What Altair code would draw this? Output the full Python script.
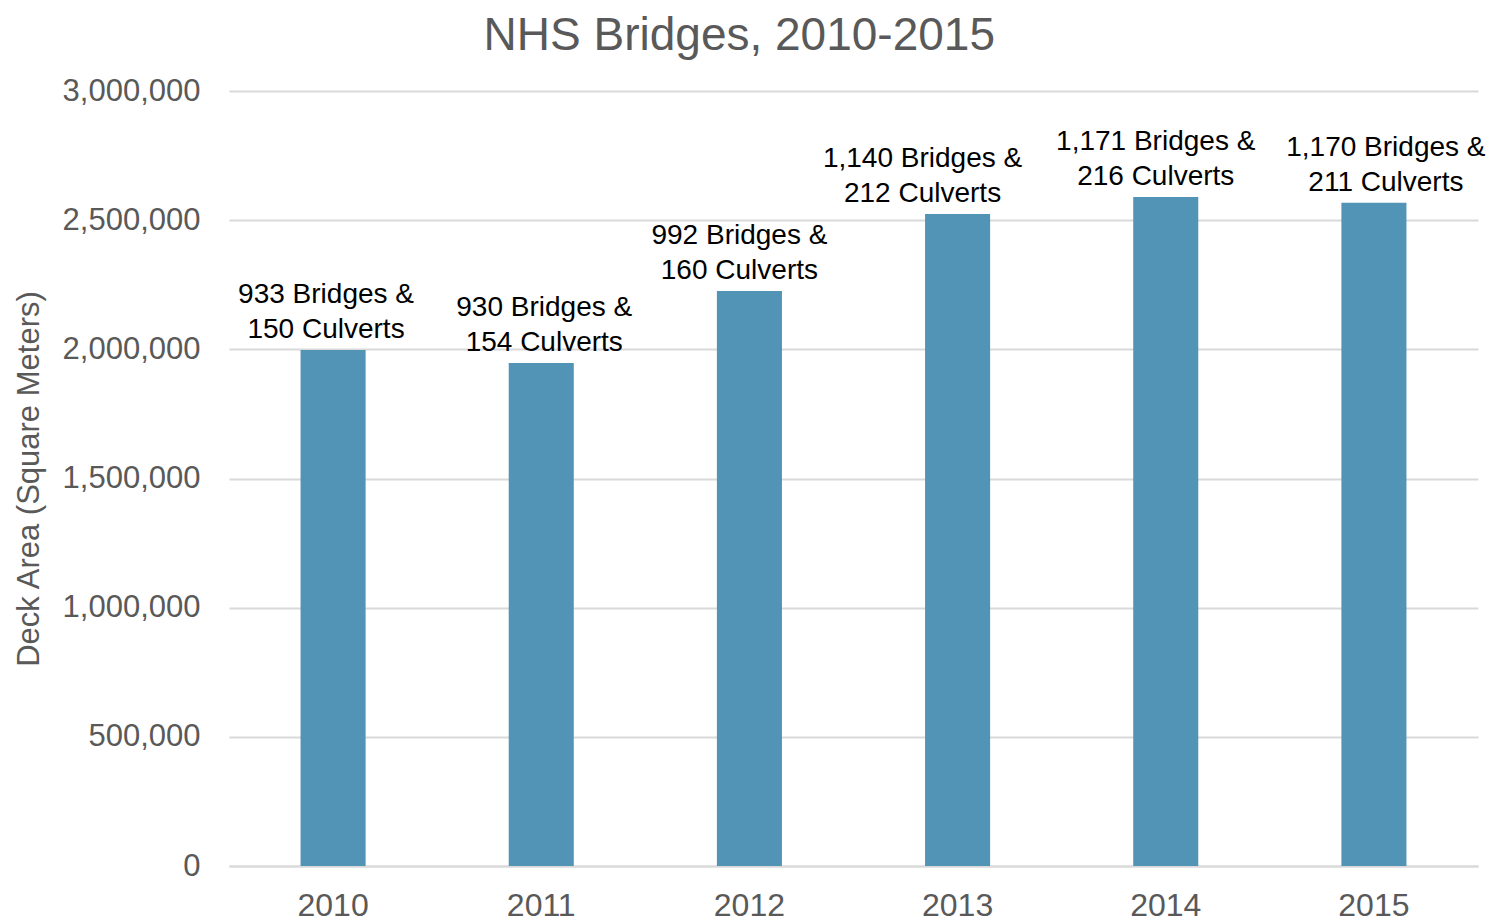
import altair as alt
import pandas as pd

years = ["2010", "2011", "2012", "2013", "2014", "2015"]
deck_area = [1997000, 1947000, 2226000, 2524000, 2590000, 2567000]
bridges = ["933", "930", "992", "1,140", "1,171", "1,170"]
culverts = ["150", "154", "160", "212", "216", "211"]
# horizontal nudge of each annotation relative to its bar centre (pixels)
label_nudge = [-7, 3, -10, -35, -10, 12]
BAR_WIDTH = 65

df = pd.DataFrame({
    "year": years,
    "area": deck_area,
    "label": [f"{b} Bridges &\n{c} Culverts" for b, c in zip(bridges, culverts)],
    "nudge": label_nudge,
})

FONT = "Liberation Sans"
GRAY = "#595959"

base = alt.Chart(df)

x = alt.X("year:N", title=None, sort=years,
          scale=alt.Scale(paddingInner=0.6875, paddingOuter=0.34375),
          axis=alt.Axis(labelAngle=0, labelFontSize=32, labelColor=GRAY, labelFont=FONT,
                        ticks=False, domainColor="#d9d9d9", domainWidth=2, labelPadding=24))

bars = base.mark_bar(color="#5294b5").encode(
    x=x,
    y=alt.Y("area:Q", title="Deck Area (Square Meters)",
            scale=alt.Scale(domain=[0, 3000000]),
            axis=alt.Axis(values=[0, 500000, 1000000, 1500000, 2000000, 2500000, 3000000],
                          format=",.0f", labelFontSize=31, labelColor=GRAY, labelFont=FONT,
                          titleFontSize=31, titleColor=GRAY, titleFont=FONT, titleFontWeight="normal",
                          ticks=False, domain=False, gridColor="#d9d9d9", gridWidth=2,
                          labelPadding=29, titlePadding=17)),
)

labels = base.transform_calculate(
    offs=f"datum.nudge + {BAR_WIDTH / 2}"
).mark_text(baseline="bottom", fontSize=28, font=FONT, color="black",
            lineBreak="\n", lineHeight=35, dy=-41).encode(
    x=alt.X("year:N", sort=years),
    xOffset=alt.XOffset("offs:Q", scale=None),
    y="area:Q",
    text="label:N",
)

chart = (bars + labels).properties(
    width=1249, height=775,
    title=alt.TitleParams("NHS Bridges, 2010-2015", fontSize=46, font=FONT, color=GRAY,
                          fontWeight="normal", anchor="middle", frame="bounds", offset=15,
                          dx=-10),
).configure_view(stroke=None)

chart.save("out.html", embed_options={"renderer": "svg", "actions": False})
